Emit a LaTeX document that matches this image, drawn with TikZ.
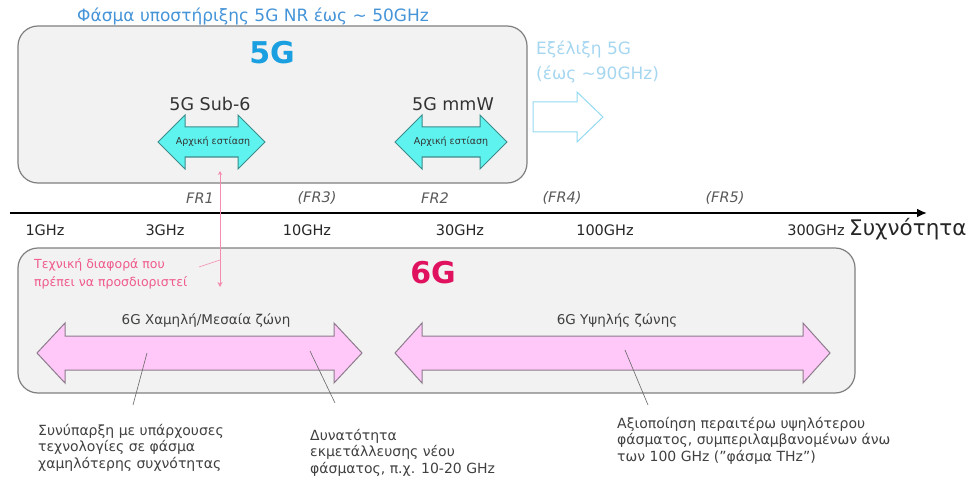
\documentclass[tikz,border=0pt]{standalone}
\usepackage{fontspec}
\setmainfont{DejaVu Sans}
\usetikzlibrary{arrows.meta}
\definecolor{boxfill}{HTML}{F2F2F2}
\definecolor{boxline}{HTML}{7F7F7F}
\definecolor{toptxt}{HTML}{4694D8}
\definecolor{fivegc}{HTML}{1A9FE0}
\definecolor{evotxt}{HTML}{A5D6F0}
\definecolor{cyanfill}{HTML}{5FF3F0}
\definecolor{cyanline}{HTML}{3C8C8C}
\definecolor{sixgc}{HTML}{E0115F}
\definecolor{pinktxt}{HTML}{F05A8C}
\definecolor{pinkfill}{HTML}{FFC8F8}
\definecolor{pinkline}{HTML}{8C7C8C}
\definecolor{darktxt}{HTML}{404040}
\definecolor{frtxt}{HTML}{595959}
\newcommand\dblarr[7]{%
  \draw[#1] (#2,#4) -- (#2+#5,#4-#7) -- (#2+#5,#4-#6) -- (#3-#5,#4-#6) -- (#3-#5,#4-#7) -- (#3,#4)
   -- (#3-#5,#4+#7) -- (#3-#5,#4+#6) -- (#2+#5,#4+#6) -- (#2+#5,#4+#7) -- cycle;}
\tikzset{
  genbox/.style={draw=boxline, fill=boxfill, line width=1.2pt, rounded corners=20pt},
  cyanarr/.style={draw=cyanline, fill=cyanfill, line width=1pt},
  pinkarr/.style={draw=pinkline, fill=pinkfill, line width=1pt},
  frlab/.style={font=\fontsize{14.5}{16}\selectfont\itshape, text=frtxt, inner sep=0pt},
  ghz/.style={font=\fontsize{14.5}{16}\selectfont, text=black!85, inner sep=0pt},
  note/.style={font=\fontsize{14}{16.5}\selectfont, text=darktxt, align=left, inner sep=0pt, anchor=north west},
  lead/.style={draw=darktxt!80, line width=0.6pt},
  band/.style={font=\fontsize{13.5}{15}\selectfont, text=darktxt, inner sep=0pt},
}
\begin{document}
\begin{tikzpicture}[x=1pt,y=-1pt]
\useasboundingbox (0,0) rectangle (969,484);
% 5G box
\draw[genbox] (18,26) rectangle (527,183);
\node[font=\fontsize{17}{18}\selectfont, text=toptxt, inner sep=0pt] (top) at (253,16) {Φάσμα υποστήριξης 5G NR έως \textasciitilde\ 50GHz};
\node[font=\fontsize{30}{32}\selectfont\bfseries, text=fivegc, inner sep=0pt] (fiveg) at (272,53) {5G};
\node[font=\fontsize{17.5}{19}\selectfont, text=black!80, inner sep=0pt] (sub6) at (210,104) {5G Sub-6};
\node[font=\fontsize{17.5}{19}\selectfont, text=black!80, inner sep=0pt] (mmw) at (453,104) {5G mmW};
\dblarr{cyanarr}{158}{265}{142}{27}{15}{27}
\dblarr{cyanarr}{395}{507}{142}{27}{15}{27}
\node[font=\fontsize{9.5}{11}\selectfont, text=black!80, inner sep=0pt] (foc1) at (213,142) {Αρχική εστίαση};
\node[font=\fontsize{9.5}{11}\selectfont, text=black!80, inner sep=0pt] (foc2) at (451,142) {Αρχική εστίαση};
% evolution
\node[font=\fontsize{17}{25}\selectfont, text=evotxt, align=left, inner sep=0pt, anchor=west] (evo) at (536,62) {Εξέλιξη 5G\\(έως \textasciitilde90GHz)};
\draw[draw=evotxt!90!cyan, line width=1pt, fill=white] (533,102) -- (577,102) -- (577,92) -- (603,117) -- (577,142) -- (577,132) -- (533,132) -- cycle;
% axis
\coordinate (axL) at (10,213);
\coordinate (axR) at (927,213);
\draw[line width=2.4pt, -{Latex[length=10pt,width=9pt]}] (axL) -- (axR);
\node[frlab] (fr1) at (200,198) {FR1};
\node[frlab] (fr3) at (317,198) {(FR3)};
\node[frlab] (fr2) at (435,198) {FR2};
\node[frlab] (fr4) at (562,198) {(FR4)};
\node[frlab] (fr5) at (725,198) {(FR5)};
\node[ghz] (g1) at (45,230) {1GHz};
\node[ghz] (g3) at (165,230) {3GHz};
\node[ghz] (g10) at (307,230) {10GHz};
\node[ghz] (g30) at (460,230) {30GHz};
\node[ghz] (g100) at (605,230) {100GHz};
\node[ghz] (g300) at (816,230) {300GHz};
\node[font=\fontsize{21.5}{23}\selectfont, text=black!85, inner sep=0pt, anchor=west] (freq) at (849,229) {Συχνότητα};
% 6G box
\draw[genbox] (18,248) rectangle (855,393);
\node[font=\fontsize{30}{32}\selectfont\bfseries, text=sixgc, inner sep=0pt] (sixg) at (433,273) {6G};
\node[font=\fontsize{12.5}{18}\selectfont, text=pinktxt, align=left, inner sep=0pt, anchor=west] (diff) at (34,274) {Τεχνική διαφορά που\\πρέπει να προσδιοριστεί};
\coordinate (dtop) at (220,171);
\coordinate (dbot) at (220,287);
\coordinate (dmid) at (220,260);
\coordinate (dstart) at (199,267);
\draw[pinktxt!70, line width=0.6pt, {Stealth[length=4pt,width=4pt]}-{Stealth[length=5pt,width=5pt]}] (dtop) -- (dbot);
\draw[pinktxt!70, line width=0.6pt] (dstart) -- (dmid);
\node[band] (low) at (206,321) {6G Χαμηλή/Μεσαία ζώνη};
\node[band] (high) at (617,321) {6G Υψηλής ζώνης};
\dblarr{pinkarr}{37}{362}{353}{28}{17}{30}
\dblarr{pinkarr}{395}{830}{353}{27}{17}{30}
% notes
\node[note] (n1) at (38,424) {Συνύπαρξη με υπάρχουσες\\τεχνολογίες σε φάσμα\\χαμηλότερης συχνότητας};
\node[note] (n2) at (310,429) {Δυνατότητα\\εκμετάλλευσης νέου\\φάσματος, π.χ. 10-20 GHz};
\node[note] (n3) at (617,417) {Αξιοποίηση περαιτέρω υψηλότερου\\φάσματος, συμπεριλαμβανομένων άνω\\των 100 GHz ("φάσμα THz")};
\coordinate (l1a) at (147,353); \coordinate (l1b) at (133,405);
\coordinate (l2a) at (310,351); \coordinate (l2b) at (335,403);
\coordinate (l3a) at (625,350); \coordinate (l3b) at (648,405);
\draw[lead] (l1a) -- (l1b);
\draw[lead] (l2a) -- (l2b);
\draw[lead] (l3a) -- (l3b);
\end{tikzpicture}
\end{document}
